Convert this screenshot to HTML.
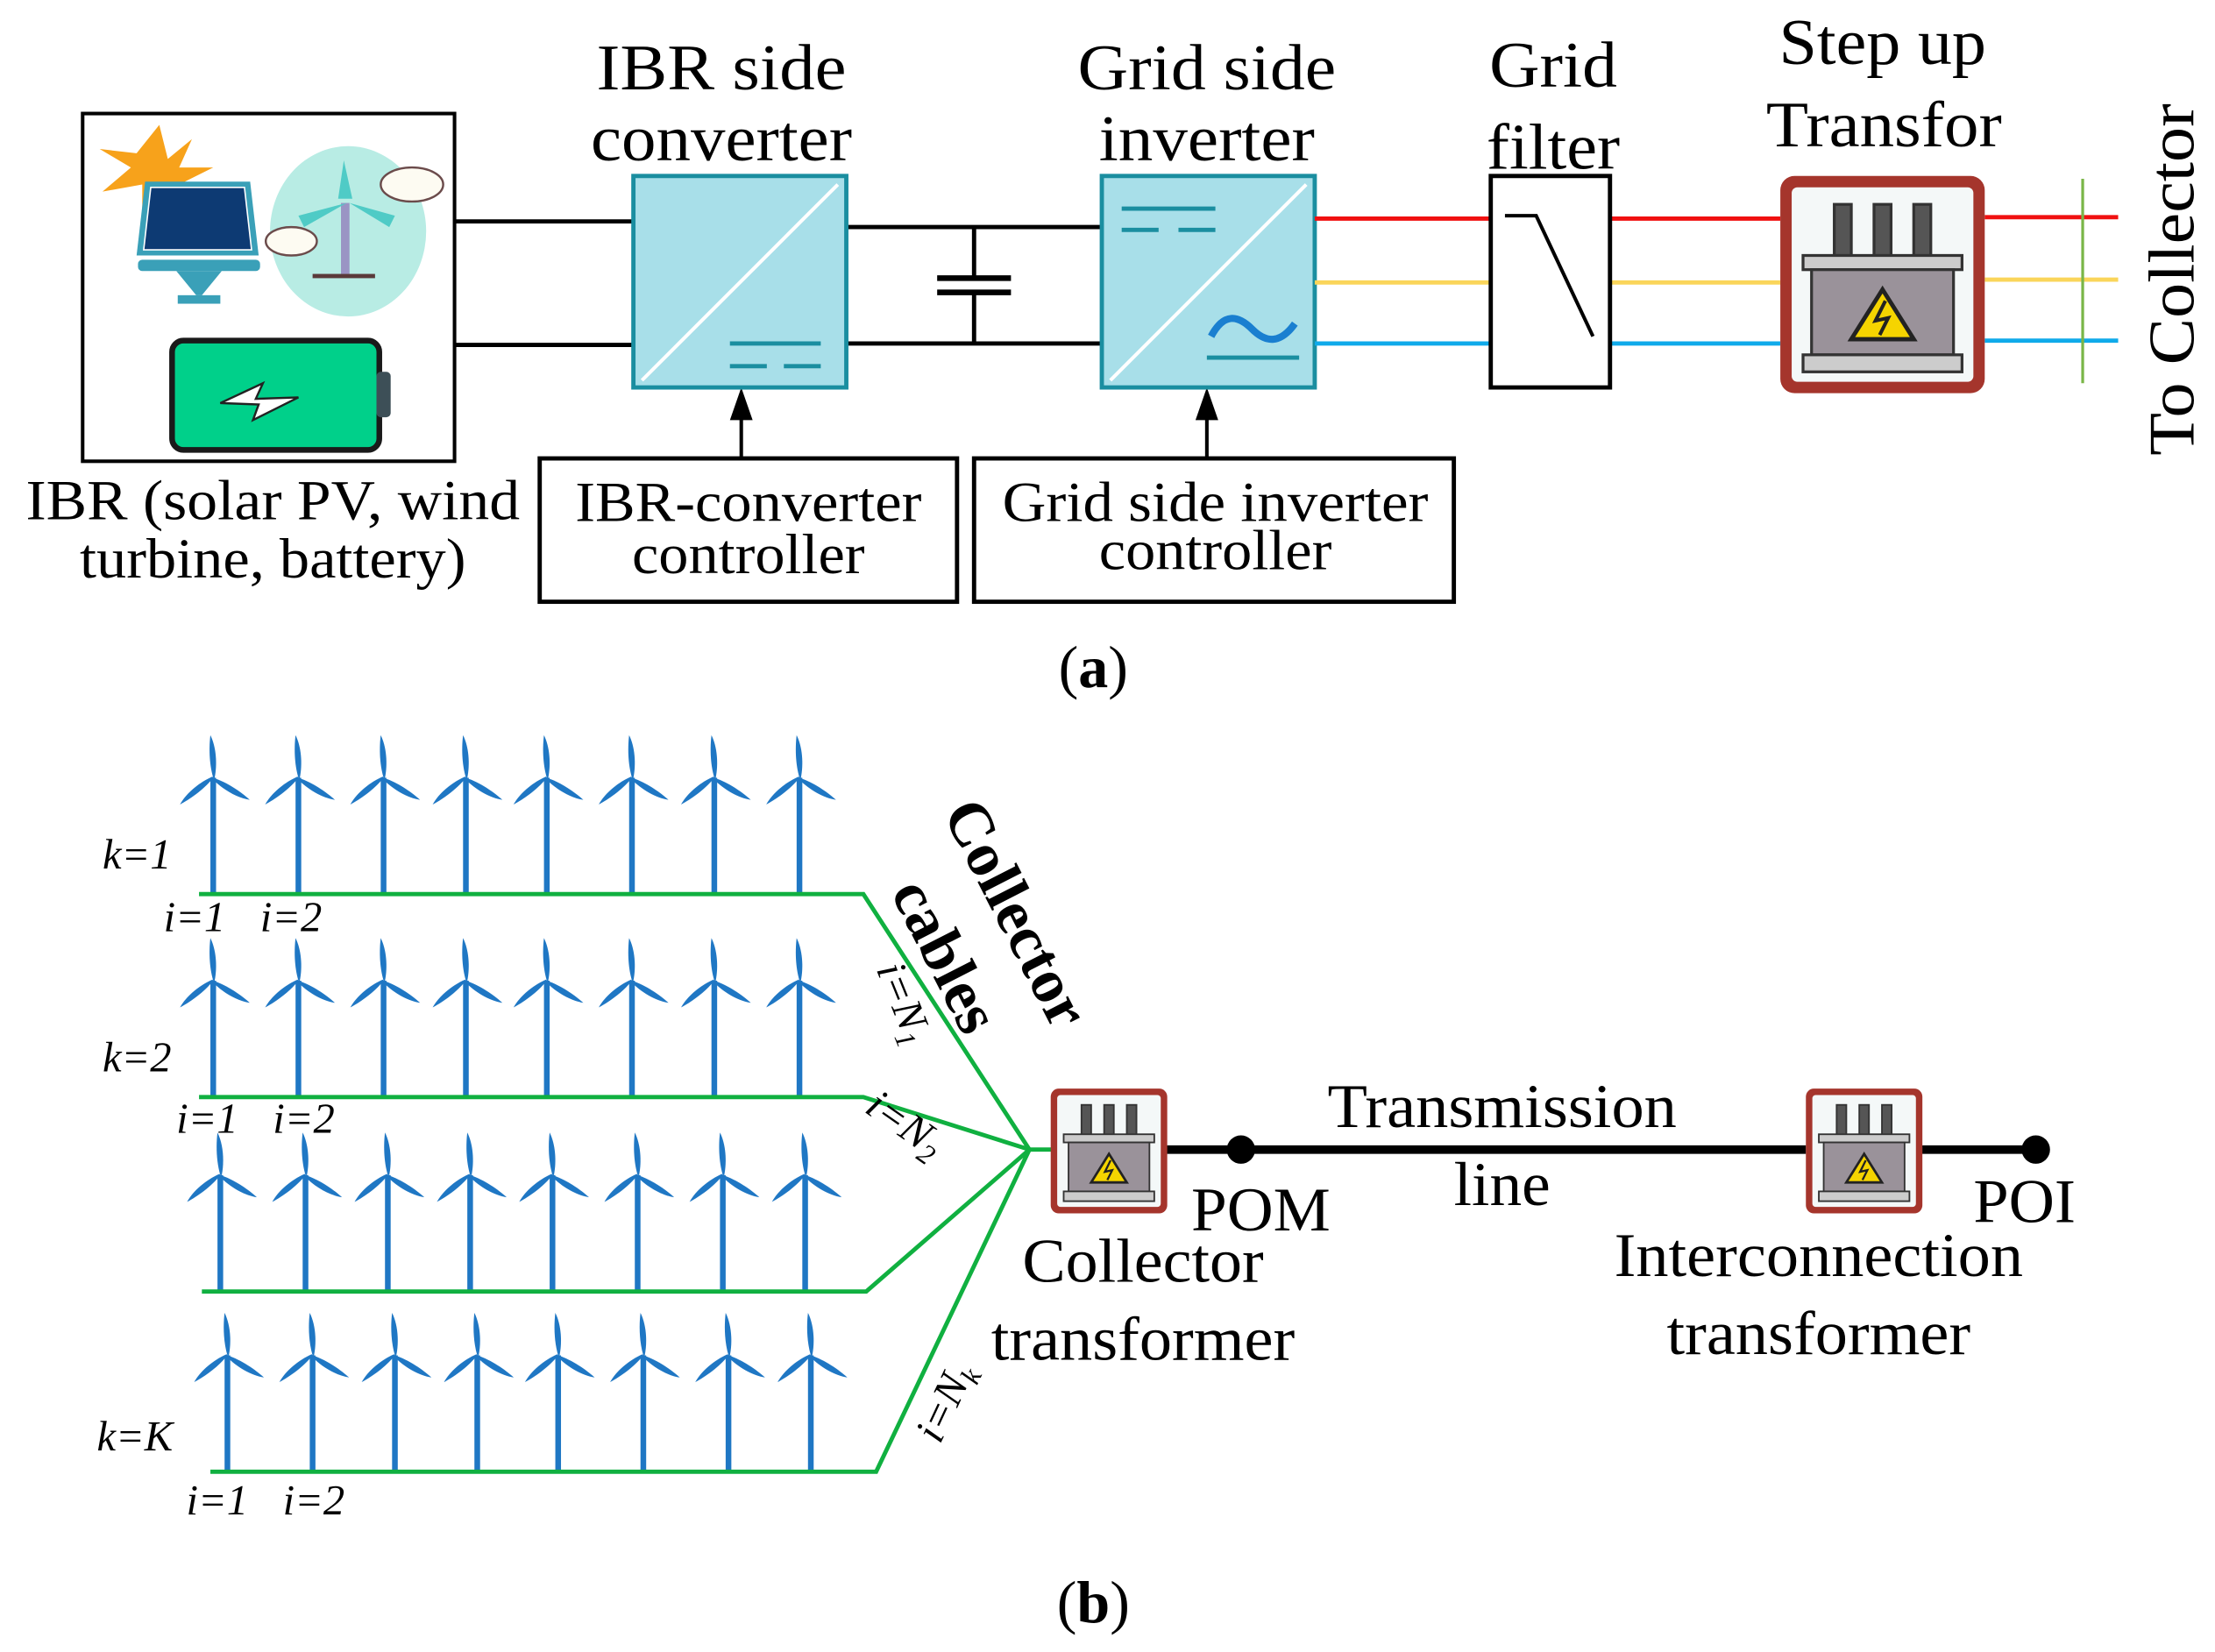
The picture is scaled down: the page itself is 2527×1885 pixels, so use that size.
<!DOCTYPE html>
<html><head><meta charset="utf-8"><style>
html,body{margin:0;padding:0;background:#fff;}
svg{display:block;}
text{font-family:"Liberation Serif",serif;fill:#000;}
</style></head><body>
<svg width="2527" height="1885" viewBox="0 0 1560 1164" xmlns="http://www.w3.org/2000/svg">
<defs>
<g id="tr">
 <rect x="0" y="0" width="144" height="153" rx="10" fill="#a5352c"/>
 <rect x="8" y="8" width="128" height="137" rx="4" fill="#f4f8f8"/>
 <g fill="#555" stroke="#333" stroke-width="2">
  <rect x="38" y="20" width="12" height="40"/><rect x="66" y="20" width="12" height="40"/><rect x="94" y="20" width="12" height="40"/>
 </g>
 <rect x="16" y="56" width="112" height="10" fill="#ccc" stroke="#333" stroke-width="2"/>
 <rect x="22" y="66" width="100" height="60" fill="#9a929a" stroke="#333" stroke-width="2"/>
 <rect x="16" y="126" width="112" height="12" fill="#ccc" stroke="#333" stroke-width="2"/>
 <polygon points="72,80 94,115 50,115" fill="#f5d400" stroke="#222" stroke-width="3"/>
 <path d="M74,88 L67,102 L76,100 L70,112" fill="none" stroke="#222" stroke-width="2.5"/>
</g>
<g id="wt">
 <rect x="-2" y="0" width="4" height="82" fill="#1f77c4"/>
 <path d="M0,0 C-3,-10 -3,-22 -2,-30 C2,-22 3,-10 1,0 Z" fill="#1f77c4"/>
 <path d="M0,0 C-3,-10 -3,-22 -2,-30 C2,-22 3,-10 1,0 Z" fill="#1f77c4" transform="rotate(125)"/>
 <path d="M0,0 C-3,-10 -3,-22 -2,-30 C2,-22 3,-10 1,0 Z" fill="#1f77c4" transform="rotate(-125)"/>
</g>
</defs>

<!-- (a) -->
<rect x="58" y="80" width="262" height="245" fill="#fff" stroke="#000" stroke-width="2.5"/>
<polygon points="112,88 118,112 135,98 126,118 150,118 130,128 145,140 112,132 100,155 100,130 72,135 92,118 70,105 96,108" fill="#f7a21b"/>
<polygon points="102,128 176,128 182,180 96,180" fill="#3aa0b8"/>
<polygon points="106,132 172,132 177,176 101,176" fill="#0d3a73" stroke="#fff" stroke-width="1"/>
<rect x="97" y="183" width="86" height="8" rx="3" fill="#3aa0b8"/>
<polygon points="124,191 156,191 142,208 138,208" fill="#3aa0b8"/>
<rect x="125" y="208" width="30" height="6" fill="#3aa0b8"/>
<ellipse cx="245" cy="163" rx="55" ry="60" fill="#b8ece4"/>
<rect x="240" y="143" width="6" height="50" fill="#9a94c4"/>
<polygon points="242,113 248,140 238,140" fill="#4fcbc6"/>
<polygon points="244,143 210,152 214,160" fill="#4fcbc6"/>
<polygon points="246,143 278,152 274,160" fill="#4fcbc6"/>
<rect x="220" y="193" width="44" height="3" fill="#5a3a3a"/>
<ellipse cx="290" cy="130" rx="22" ry="12" fill="#fdfbf2" stroke="#6b4b4b" stroke-width="1.5"/>
<ellipse cx="205" cy="170" rx="18" ry="10" fill="#fdfbf2" stroke="#6b4b4b" stroke-width="1.5"/>
<rect x="121" y="240" width="146" height="77" rx="8" fill="#00d08a" stroke="#1a1a1a" stroke-width="4"/>
<rect x="265" y="262" width="10" height="32" rx="3" fill="#3d4f57"/>
<polygon points="155,284 185,270 180,281 210,280 178,296 182,285" fill="#fff" stroke="#222" stroke-width="1.5"/>

<g stroke="#000" stroke-width="3" fill="none">
 <line x1="320" y1="156" x2="446" y2="156"/>
 <line x1="320" y1="243" x2="446" y2="243"/>
 <line x1="596" y1="160" x2="776" y2="160"/>
 <line x1="596" y1="242" x2="776" y2="242"/>
 <line x1="686" y1="160" x2="686" y2="196"/>
 <line x1="686" y1="206" x2="686" y2="242"/>
 <line x1="660" y1="196" x2="712" y2="196" stroke-width="4"/>
 <line x1="660" y1="206" x2="712" y2="206" stroke-width="4"/>
 <line x1="522" y1="323" x2="522" y2="290" stroke-width="2.5"/>
 <line x1="850" y1="323" x2="850" y2="290" stroke-width="2.5"/>
</g>
<polygon points="522,273 514,296 530,296" fill="#000"/>
<polygon points="850,273 842,296 858,296" fill="#000"/>

<rect x="446" y="124" width="150" height="149" fill="#a8dfe9" stroke="#1a8ea0" stroke-width="3"/>
<line x1="452" y1="268" x2="590" y2="130" stroke="#fff" stroke-width="2.5"/>
<line x1="514" y1="242" x2="578" y2="242" stroke="#1a8ea0" stroke-width="3"/>
<line x1="514" y1="258" x2="578" y2="258" stroke="#1a8ea0" stroke-width="3" stroke-dasharray="26,12"/>

<rect x="776" y="124" width="150" height="149" fill="#a8dfe9" stroke="#1a8ea0" stroke-width="3"/>
<line x1="782" y1="268" x2="920" y2="130" stroke="#fff" stroke-width="2.5"/>
<line x1="790" y1="147" x2="856" y2="147" stroke="#1a8ea0" stroke-width="3"/>
<line x1="790" y1="162" x2="856" y2="162" stroke="#1a8ea0" stroke-width="3" stroke-dasharray="26,14"/>
<path d="M853,237 C862,220 872,222 882,232 C892,242 902,242 912,228" fill="none" stroke="#1a7fd0" stroke-width="5"/>
<line x1="850" y1="252" x2="915" y2="252" stroke="#1a8ea0" stroke-width="3"/>

<g stroke-width="3">
 <line x1="926" y1="154" x2="1050" y2="154" stroke="#f01010"/>
 <line x1="926" y1="199" x2="1050" y2="199" stroke="#fad55a"/>
 <line x1="926" y1="242" x2="1050" y2="242" stroke="#10aaea"/>
 <line x1="1134" y1="154" x2="1254" y2="154" stroke="#f01010"/>
 <line x1="1134" y1="199" x2="1254" y2="199" stroke="#fad55a"/>
 <line x1="1134" y1="242" x2="1254" y2="242" stroke="#10aaea"/>
 <line x1="1398" y1="153" x2="1492" y2="153" stroke="#f01010"/>
 <line x1="1398" y1="197" x2="1492" y2="197" stroke="#fad55a"/>
 <line x1="1398" y1="240" x2="1492" y2="240" stroke="#10aaea"/>
</g>
<line x1="1467" y1="126" x2="1467" y2="270" stroke="#7ab648" stroke-width="2"/>
<rect x="1050" y="124" width="84" height="149" fill="#fff" stroke="#000" stroke-width="3"/>
<polyline points="1060,152 1082,152 1122,237" fill="none" stroke="#000" stroke-width="2.5"/>
<use href="#tr" x="1254" y="124"/>

<rect x="380" y="323" width="294" height="101" fill="#fff" stroke="#000" stroke-width="3"/>
<rect x="686" y="323" width="338" height="101" fill="#fff" stroke="#000" stroke-width="3"/>

<g font-size="46" text-anchor="middle">
 <text x="508" y="63" textLength="176" lengthAdjust="spacingAndGlyphs">IBR side</text>
 <text x="508" y="113" textLength="184" lengthAdjust="spacingAndGlyphs">converter</text>
 <text x="850" y="63" textLength="182" lengthAdjust="spacingAndGlyphs">Grid side</text>
 <text x="850" y="113" textLength="152" lengthAdjust="spacingAndGlyphs">inverter</text>
 <text x="1094" y="61" textLength="90" lengthAdjust="spacingAndGlyphs">Grid</text>
 <text x="1094" y="119" textLength="94" lengthAdjust="spacingAndGlyphs">filter</text>
 <text x="1326" y="45" textLength="146" lengthAdjust="spacingAndGlyphs">Step up</text>
 <text x="1327" y="103" textLength="166" lengthAdjust="spacingAndGlyphs">Transfor</text>
 <text transform="translate(1545,197) rotate(-90)" textLength="248" lengthAdjust="spacingAndGlyphs">To Collector</text>
</g>
<g font-size="40" text-anchor="middle">
 <text x="192" y="366" textLength="348" lengthAdjust="spacingAndGlyphs">IBR (solar PV, wind</text>
 <text x="192" y="407" textLength="272" lengthAdjust="spacingAndGlyphs">turbine, battery)</text>
 <text x="527" y="367" textLength="244" lengthAdjust="spacingAndGlyphs">IBR-converter</text>
 <text x="527" y="404" textLength="164" lengthAdjust="spacingAndGlyphs">controller</text>
 <text x="856" y="367" textLength="300" lengthAdjust="spacingAndGlyphs">Grid side inverter</text>
 <text x="856" y="401" textLength="164" lengthAdjust="spacingAndGlyphs">controller</text>
 <text x="770" y="484" font-size="42">(<tspan font-weight="bold">a</tspan>)</text>
</g>

<!-- (b) -->
<g>
 <use href="#wt" x="150" y="548"/><use href="#wt" x="210" y="548"/><use href="#wt" x="270" y="548"/><use href="#wt" x="328" y="548"/>
 <use href="#wt" x="385" y="548"/><use href="#wt" x="445" y="548"/><use href="#wt" x="503" y="548"/><use href="#wt" x="563" y="548"/>
 <use href="#wt" x="150" y="691"/><use href="#wt" x="210" y="691"/><use href="#wt" x="270" y="691"/><use href="#wt" x="328" y="691"/>
 <use href="#wt" x="385" y="691"/><use href="#wt" x="445" y="691"/><use href="#wt" x="503" y="691"/><use href="#wt" x="563" y="691"/>
 <use href="#wt" x="155" y="828"/><use href="#wt" x="215" y="828"/><use href="#wt" x="273" y="828"/><use href="#wt" x="331" y="828"/>
 <use href="#wt" x="389" y="828"/><use href="#wt" x="449" y="828"/><use href="#wt" x="509" y="828"/><use href="#wt" x="567" y="828"/>
 <use href="#wt" x="160" y="955"/><use href="#wt" x="220" y="955"/><use href="#wt" x="278" y="955"/><use href="#wt" x="336" y="955"/>
 <use href="#wt" x="393" y="955"/><use href="#wt" x="453" y="955"/><use href="#wt" x="513" y="955"/><use href="#wt" x="571" y="955"/>
</g>
<g stroke="#10b040" stroke-width="3" fill="none">
 <polyline points="140,630 608,630 725,810"/>
 <polyline points="140,773 608,773 725,810"/>
 <polyline points="142,910 610,910 725,810"/>
 <polyline points="148,1037 617,1037 725,810"/>
 <line x1="725" y1="810" x2="742" y2="810"/>
</g>
<line x1="822" y1="810" x2="1272" y2="810" stroke="#000" stroke-width="6"/>
<line x1="1354" y1="810" x2="1434" y2="810" stroke="#000" stroke-width="6"/>
<circle cx="874" cy="810" r="10" fill="#000"/>
<circle cx="1434" cy="810" r="10" fill="#000"/>
<use href="#tr" transform="translate(740,767) scale(0.57,0.575)"/>
<use href="#tr" transform="translate(1272,767) scale(0.57,0.575)"/>

<g font-size="44" text-anchor="middle">
 <text x="1058" y="794" textLength="246" lengthAdjust="spacingAndGlyphs">Transmission</text>
 <text x="1058" y="849" textLength="68" lengthAdjust="spacingAndGlyphs">line</text>
 <text x="888" y="867" textLength="98" lengthAdjust="spacingAndGlyphs">POM</text>
 <text x="805" y="903" textLength="170" lengthAdjust="spacingAndGlyphs">Collector</text>
 <text x="805" y="958" textLength="214" lengthAdjust="spacingAndGlyphs">transformer</text>
 <text x="1426" y="861" textLength="72" lengthAdjust="spacingAndGlyphs">POI</text>
 <text x="1281" y="899" textLength="288" lengthAdjust="spacingAndGlyphs">Interconnection</text>
 <text x="1281" y="954" textLength="214" lengthAdjust="spacingAndGlyphs">transformer</text>
 <text x="770" y="1143" font-size="42">(<tspan font-weight="bold">b</tspan>)</text>
 <text transform="translate(703,650) rotate(63)" font-weight="bold" font-size="44">Collector</text>
 <text transform="translate(653,680) rotate(63)" font-weight="bold" font-size="44">cables</text>
</g>
<g font-size="30" font-style="italic">
 <text x="72" y="612">k=1</text>
 <text x="115" y="656">i=1</text><text x="183" y="656">i=2</text>
 <text x="72" y="755">k=2</text>
 <text x="124" y="798">i=1</text><text x="192" y="798">i=2</text>
 <text x="68" y="1022">k=K</text>
 <text x="131" y="1067">i=1</text><text x="199" y="1067">i=2</text>
 <text transform="translate(617,683) rotate(68)">i=N<tspan font-size="20" dy="6">1</tspan></text>
 <text transform="translate(608,783) rotate(35)">i=N<tspan font-size="20" dy="6">2</tspan></text>
 <text transform="translate(662,1018) rotate(-65)">i=N<tspan font-size="20" dy="6">k</tspan></text>
</g>
</svg>
</body></html>
